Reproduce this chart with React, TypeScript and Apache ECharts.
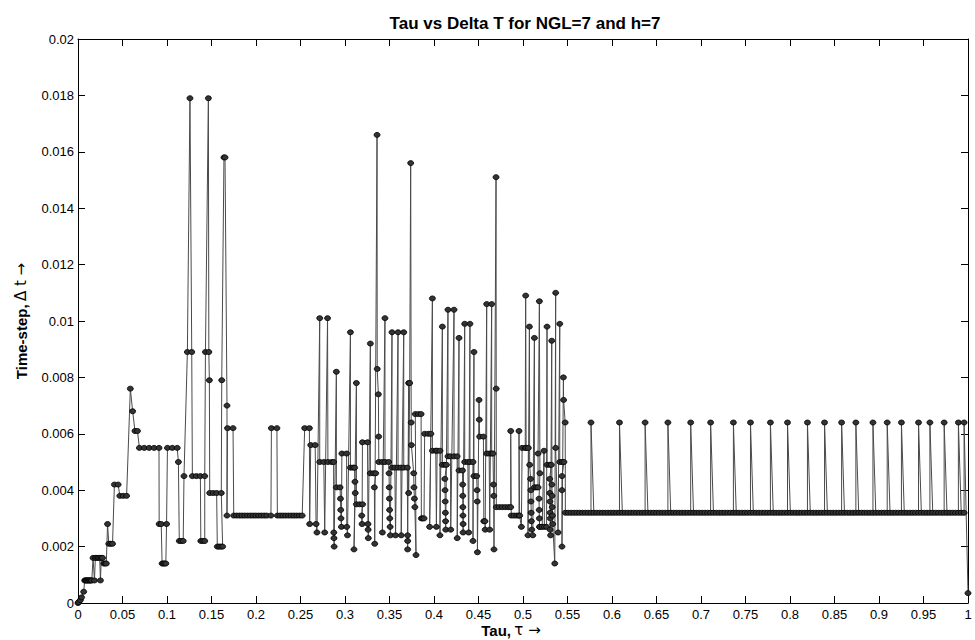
import React, { useEffect, useRef } from "react";
import * as echarts from "echarts";

// ---- data: [tau, dt] single points, or [tauStart, tauEnd, dt] runs of constant dt ----
const earlySteps: number[][] = [
  [0, 0], [0.0007, 0.00003], [0.0026, 0.0001], [0.004, 0.0002], [0.0064, 0.0004],
  [0.0075, 0.0155, 0.0008],
  [0.0169, 0.0016], [0.0185, 0.0008], [0.0195, 0.0016], [0.0212, 0.0016], [0.0228, 0.0016],
  [0.0244, 0.0016], [0.0252, 0.0008], [0.0262, 0.0016], [0.0276, 0.0016],
  [0.029, 0.0318, 0.0014],
  [0.0332, 0.0028],
  [0.0346, 0.039, 0.0021],
  [0.0409, 0.0451, 0.0042],
  [0.047, 0.0565, 0.0038],
  [0.0588, 0.0076], [0.0614, 0.0068], [0.064, 0.0061], [0.0668, 0.0061],
  [0.069, 0.091, 0.0055],
  [0.0912, 0.0028], [0.0935, 0.0028],
  [0.0945, 0.099, 0.0014],
  [0.0995, 0.0028],
  [0.1005, 0.1115, 0.0055],
  [0.1128, 0.005],
  [0.1138, 0.1182, 0.0022],
  [0.1191, 0.0045],
];

const peakSteps: number[][] = [
  [0.1229, 0.0089], [0.1258, 0.0179], [0.1278, 0.0089],
  [0.1285, 0.1375, 0.0045],
  [0.138, 0.1424, 0.0022],
  [0.1424, 0.0045], [0.1432, 0.0089], [0.1465, 0.0179], [0.147, 0.0089], [0.1476, 0.0079],
  [0.148, 0.156, 0.0039],
  [0.1565, 0.1625, 0.002],
  [0.161, 0.0039], [0.1615, 0.0079], [0.164, 0.0158], [0.1652, 0.0158], [0.1674, 0.007],
  [0.1674, 0.0031], [0.168, 0.0062], [0.1742, 0.0062],
  [0.175, 0.215, 0.0031], [0.2168, 0.0031],
  [0.2173, 0.0062], [0.2235, 0.0062],
  [0.224, 0.2535, 0.0031],
];

const midSteps1: number[][] = [
  [0.2547, 0.0062], [0.26, 0.0062], [0.2603, 0.0028], [0.2615, 0.0056], [0.2665, 0.0056],
  [0.2675, 0.0028], [0.2685, 0.0025],
  [0.2716, 0.0101], [0.2716, 0.005], [0.2762, 0.005], [0.2772, 0.0025], [0.2804, 0.0101],
  [0.2808, 0.005], [0.285, 0.005], [0.2872, 0.005], [0.2874, 0.0025], [0.2876, 0.0023], [0.2878, 0.002],
  [0.2903, 0.0082], [0.2903, 0.0041], [0.2944, 0.0041], [0.2949, 0.0037], [0.2952, 0.0033],
  [0.2955, 0.003], [0.296, 0.0027],
  [0.2965, 0.0053], [0.3018, 0.0053], [0.302, 0.0027], [0.3028, 0.0024],
  [0.3061, 0.0096], [0.3061, 0.0048], [0.309, 0.0048], [0.3108, 0.0048], [0.3112, 0.0043],
  [0.3115, 0.0039], [0.3101, 0.0019],
  [0.3128, 0.0078], [0.3128, 0.0035], [0.3163, 0.0035], [0.3198, 0.0035], [0.3188, 0.0031], [0.3192, 0.0028],
  [0.3196, 0.0057], [0.3253, 0.0057], [0.3258, 0.0028], [0.326, 0.0026], [0.3262, 0.0023],
  [0.3285, 0.0092], [0.3285, 0.0046], [0.332, 0.0046], [0.3345, 0.0046], [0.333, 0.0041], [0.3334, 0.0021],
  [0.336, 0.0166], [0.3362, 0.0083], [0.3375, 0.0074], [0.3378, 0.0059], [0.338, 0.005],
  [0.342, 0.005], [0.342, 0.0025],
  [0.3449, 0.0101], [0.3449, 0.005], [0.349, 0.005], [0.3495, 0.0046], [0.3497, 0.0041],
  [0.3499, 0.0037], [0.3501, 0.0033], [0.3503, 0.003], [0.3507, 0.0027], [0.351, 0.0024],
];

const midSteps2: number[][] = [
  [0.3528, 0.0096], [0.3528, 0.0048], [0.356, 0.0048], [0.3568, 0.0024], [0.3596, 0.0096],
  [0.3596, 0.0048], [0.3628, 0.0048], [0.3632, 0.0024], [0.366, 0.0096], [0.366, 0.0048],
  [0.37, 0.0048], [0.3704, 0.0024], [0.3704, 0.0022], [0.3704, 0.0019],
  [0.3715, 0.0078], [0.3715, 0.0039], [0.3727, 0.0078], [0.3738, 0.0156], [0.3744, 0.0064],
  [0.3746, 0.0056], [0.3772, 0.0046], [0.3775, 0.0041], [0.378, 0.0037], [0.3785, 0.0034], [0.3798, 0.0017],
  [0.379, 0.0067], [0.3825, 0.0067], [0.3855, 0.0067], [0.3858, 0.003], [0.3872, 0.003], [0.3888, 0.003],
  [0.3895, 0.006], [0.3935, 0.006], [0.3965, 0.006], [0.3951, 0.0027],
  [0.3982, 0.0108], [0.3982, 0.0054], [0.402, 0.0054], [0.4027, 0.0027], [0.4035, 0.0054],
  [0.4067, 0.0054], [0.4067, 0.0024],
  [0.4094, 0.0098], [0.4094, 0.0049], [0.412, 0.0049], [0.414, 0.0049], [0.4122, 0.0044],
  [0.4124, 0.004], [0.4126, 0.0036], [0.4128, 0.0032], [0.413, 0.0029], [0.4132, 0.0026],
  [0.4157, 0.0104], [0.4157, 0.0052], [0.4185, 0.0052], [0.4188, 0.0026], [0.4225, 0.0104],
  [0.4225, 0.0052], [0.426, 0.0052], [0.4261, 0.0023],
  [0.4281, 0.0094], [0.4281, 0.0047], [0.432, 0.0047], [0.4322, 0.0042], [0.4323, 0.0038],
  [0.4324, 0.0034], [0.4325, 0.0031], [0.4327, 0.0028], [0.4327, 0.0025],
  [0.4345, 0.0099], [0.4345, 0.005], [0.438, 0.005], [0.439, 0.0025], [0.4404, 0.0099],
  [0.4404, 0.005], [0.4438, 0.005], [0.4438, 0.0022],
  [0.4449, 0.0089], [0.4449, 0.0045], [0.448, 0.0045], [0.4484, 0.004], [0.4486, 0.0036], [0.4488, 0.0018],
];

const midSteps3: number[][] = [
  [0.4506, 0.0072], [0.4509, 0.0065], [0.4513, 0.0059], [0.4555, 0.0059], [0.456, 0.0029],
  [0.4572, 0.0029], [0.4575, 0.0026],
  [0.4592, 0.0106], [0.4592, 0.0053], [0.462, 0.0053], [0.4626, 0.0026], [0.4648, 0.0106],
  [0.4648, 0.0053], [0.4663, 0.0053], [0.4668, 0.0042], [0.4671, 0.0038], [0.4674, 0.0019],
  [0.4697, 0.0151], [0.4699, 0.0076], [0.47, 0.4836, 0.0034],
  [0.4862, 0.0034], [0.4862, 0.0061], [0.4868, 0.0031], [0.4899, 0.0031], [0.493, 0.0031],
  [0.4955, 0.0031], [0.4955, 0.0061], [0.4962, 0.0031], [0.4982, 0.0027],
  [0.499, 0.0055], [0.5025, 0.0055], [0.503, 0.0109], [0.5035, 0.0055], [0.506, 0.0055],
  [0.5056, 0.0024], [0.5072, 0.0098], [0.5075, 0.0049], [0.5085, 0.0044], [0.5088, 0.004],
  [0.509, 0.0036], [0.5092, 0.0032], [0.5094, 0.0029], [0.5098, 0.0026], [0.511, 0.0024],
  [0.5128, 0.0094], [0.5128, 0.0041], [0.515, 0.0041], [0.5169, 0.0041], [0.5169, 0.0053],
  [0.5184, 0.0107], [0.519, 0.0046], [0.518, 0.0037], [0.5182, 0.0033], [0.5184, 0.003], [0.5186, 0.0027],
  [0.519, 0.0027], [0.5215, 0.0027], [0.5236, 0.0054], [0.524, 0.0027], [0.5265, 0.0027],
  [0.527, 0.0098], [0.527, 0.0049], [0.53, 0.0049], [0.5318, 0.0049], [0.53, 0.0044],
  [0.5301, 0.0039], [0.5303, 0.0036], [0.5305, 0.0032], [0.5307, 0.003], [0.5305, 0.0026], [0.531, 0.0024],
  [0.5323, 0.0093], [0.5325, 0.0042], [0.5327, 0.0038], [0.5329, 0.0034], [0.5331, 0.0031],
  [0.5334, 0.0028], [0.5357, 0.0014], [0.5367, 0.011], [0.5367, 0.0055], [0.5394, 0.0025],
  [0.5413, 0.0099], [0.5413, 0.005], [0.544, 0.005], [0.546, 0.005], [0.5438, 0.0045],
  [0.5438, 0.004], [0.5438, 0.002], [0.5454, 0.008], [0.5456, 0.0072], [0.5474, 0.0064],
];

// late regime: constant base step with periodic rejected (doubled) attempts
const baseDt = 0.0032;
const spikeDt = 0.0064;
const baseStart = 0.5476;
const baseEnd = 0.9985;
const spikeTaus = [
  0.5794, 0.6098, 0.6379, 0.6645, 0.6892, 0.7135, 0.7364, 0.7581, 0.7794, 0.7997,
  0.8199, 0.839, 0.8581, 0.8761, 0.8941, 0.9109, 0.9278, 0.9446, 0.9603, 0.9761,
  0.9905, 0.9968,
];
const finalStep = [1.0, 0.00035];

const xTicks = { min: 0, max: 1, interval: 0.05 };
const yTicks = { min: 0, max: 0.02, interval: 0.002 };

function expand(pieces: number[][]): number[][] {
  const out: number[][] = [];
  for (const p of pieces) {
    if (p.length === 2) out.push([p[0], p[1]]);
    else {
      for (let t = p[0]; t <= p[1] + 1e-9; t += p[2]) out.push([+t.toFixed(5), p[2]]);
    }
  }
  return out;
}

function lateRegime(): number[][] {
  const out: number[][] = [];
  const spikes = spikeTaus.slice();
  for (let t = baseStart; t <= baseEnd + 1e-9; t += baseDt) {
    const tt = +t.toFixed(5);
    out.push([tt, baseDt]);
    while (spikes.length && spikes[0] < tt + baseDt && spikes[0] >= tt - 1e-9) {
      out.push([tt, spikeDt]);
      spikes.shift();
    }
  }
  out.push(finalStep);
  return out;
}

const allPoints = [
  ...expand(earlySteps),
  ...expand(peakSteps),
  ...expand(midSteps1),
  ...expand(midSteps2),
  ...expand(midSteps3),
  ...lateRegime(),
];

const FONT = "'Liberation Sans', Arial, Helvetica, sans-serif";
const SYM = "'DejaVu Sans', sans-serif";

export default function App() {
  const ref = useRef<HTMLDivElement>(null);
  useEffect(() => {
    if (!ref.current) return;
    const chart = echarts.init(ref.current, undefined, { renderer: "svg" });
    const axisLine = { show: true, onZero: false, lineStyle: { color: "#000", width: 1 } };
    const tick = { show: true, inside: true, length: 7, lineStyle: { color: "#000", width: 1 } };
    const fmt = (d: number) => (v: number) => String(parseFloat(v.toFixed(d)));
    const rich = {
      b: { fontFamily: FONT, fontSize: 15, fontWeight: "bold", fill: "#000", color: "#000" },
      n: { fontFamily: SYM, fontSize: 15, fontWeight: "normal", fill: "#000", color: "#000" },
    };
    chart.setOption({
      animation: false,
      backgroundColor: "#fff",
      grid: { left: 78, right: 7, top: 39, bottom: 37, containLabel: false },
      title: {
        text: "Tau vs Delta T for NGL=7 and h=7",
        left: 520,
        top: 10,
        textAlign: "center",
        textStyle: { fontFamily: FONT, fontSize: 17, fontWeight: "bold", color: "#000" },
      },
      xAxis: [
        {
          type: "value", ...xTicks, position: "bottom",
          axisLine, axisTick: tick, splitLine: { show: false },
          axisLabel: { color: "#000", fontFamily: FONT, fontSize: 13, margin: 5, formatter: fmt(2) },
        },
        {
          type: "value", ...xTicks, position: "top",
          axisLine, axisTick: tick, splitLine: { show: false }, axisLabel: { show: false },
        },
      ],
      yAxis: [
        {
          type: "value", ...yTicks, position: "left",
          axisLine, axisTick: tick, splitLine: { show: false },
          axisLabel: { color: "#000", fontFamily: FONT, fontSize: 13, margin: 4, formatter: fmt(3) },
        },
        {
          type: "value", ...yTicks, position: "right",
          axisLine, axisTick: tick, splitLine: { show: false }, axisLabel: { show: false },
        },
      ],
      graphic: [
        {
          type: "text", x: 511, y: 630,
          style: {
            text: "{b|Tau,} {n|τ →}", rich,
            textAlign: "center", textVerticalAlign: "middle", align: "center", verticalAlign: "middle",
          },
        },
        {
          type: "text", x: 21, y: 321, rotation: Math.PI / 2,
          style: {
            text: "{b|Time-step,} {n|Δ t →}", rich,
            textAlign: "center", textVerticalAlign: "middle", align: "center", verticalAlign: "middle",
          },
        },
      ],
      series: [
        {
          type: "line",
          xAxisIndex: 0,
          yAxisIndex: 0,
          data: allPoints,
          symbol: "circle",
          symbolSize: [6, 5],
          showSymbol: true,
          showAllSymbol: true,
          lineStyle: { color: "#4a4a4a", width: 1 },
          itemStyle: { color: "#333", borderColor: "#000", borderWidth: 0.8 },
          emphasis: { disabled: true },
          silent: true,
        },
      ],
    });
    return () => chart.dispose();
  }, []);
  return <div ref={ref} style={{ position: "fixed", left: 0, top: 0, width: 975, height: 640 }} />;
}
